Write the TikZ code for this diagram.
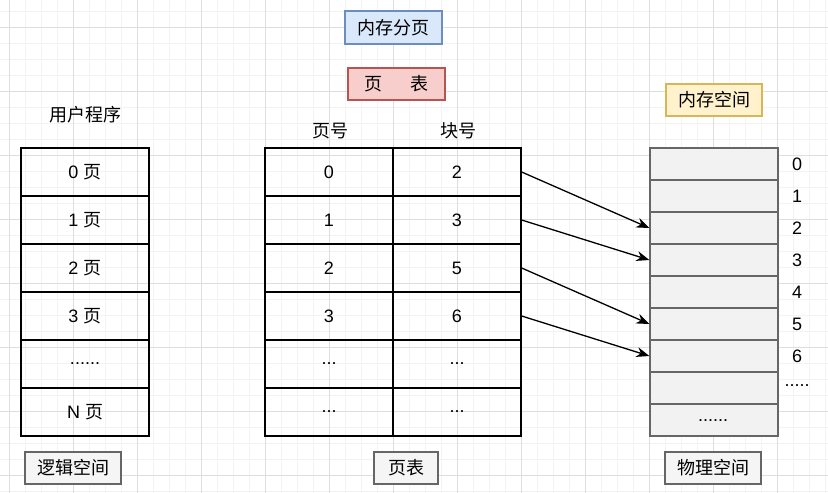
\documentclass[tikz,border=0pt]{standalone}
\usepackage{fontspec}
\setmainfont{Liberation Sans}
\newfontfamily\cjkfont{Noto Sans CJK SC}
\newcommand\zh[1]{{\cjkfont #1}}
\usetikzlibrary{arrows.meta}
\definecolor{gridminor}{HTML}{F3F3F3}
\definecolor{gridmajor}{HTML}{DEDEDE}
\definecolor{bluefill}{HTML}{DAE8FC}
\definecolor{blueline}{HTML}{6C8EBF}
\definecolor{redfill}{HTML}{F8CECC}
\definecolor{redline}{HTML}{B85450}
\definecolor{yelfill}{HTML}{FFF2CC}
\definecolor{yelline}{HTML}{D6B656}
\definecolor{memfill}{HTML}{F2F2F2}
\definecolor{memline}{HTML}{666666}
\definecolor{tagfill}{HTML}{F5F5F5}
\begin{document}
\begin{tikzpicture}[x=1pt,y=-1pt,
  every node/.style={font=\fontsize{18}{22}\selectfont, inner sep=0pt},
  cell/.style={draw=black, line width=1.3pt, minimum width=128pt, minimum height=48pt},
  mem/.style={draw=memline, fill=memfill, line width=1.3pt, minimum width=128pt, minimum height=32pt},
  tagbox/.style={draw=memline, fill=tagfill, line width=1.3pt, minimum height=32pt},
  plain/.style={},
  link/.style={line width=1.3pt, -{Stealth[length=13pt,width=10pt]}}
]
\useasboundingbox (0,0) rectangle (828,493);
% grid
\foreach \x in {-7,9,...,830} \draw[gridminor, line width=1pt] (\x,0) -- (\x,493);
\foreach \y in {11,27,...,495} \draw[gridminor, line width=1pt] (0,\y) -- (828,\y);
\foreach \x in {9,73,...,830} \draw[gridmajor, line width=1pt] (\x,0) -- (\x,493);
\foreach \y in {27,91,...,495} \draw[gridmajor, line width=1pt] (0,\y) -- (828,\y);

% titles
\node[draw=blueline, fill=bluefill, line width=1.3pt, minimum width=97pt, minimum height=33pt] (title) at (393.5,27.5) {\zh{内存分页}};
\node[draw=redline, fill=redfill, line width=1.3pt, minimum width=97pt, minimum height=32pt] (pt) at (396.5,84) {\zh{页\hspace{1.55em}表}};
\node[draw=yelline, fill=yelfill, line width=1.3pt, minimum width=96pt, minimum height=32pt] (ms) at (714,100) {\zh{内存空间}};

\node[plain] (up) at (85,115) {\zh{用户程序}};
\node[plain] (hpage) at (330,131) {\zh{页号}};
\node[plain] (hblock) at (458,131) {\zh{块号}};

% logical pages
\node[cell] (l0) at (85,172) {0 \zh{页}};
\node[cell] (l1) at (85,220) {1 \zh{页}};
\node[cell] (l2) at (85,268) {2 \zh{页}};
\node[cell] (l3) at (85,316) {3 \zh{页}};
\node[cell] (l4) at (85,364) {......};
\node[cell] (l5) at (85,412) {N \zh{页}};

% page table
\node[cell] (p0a) at (329,172) {0};
\node[cell] (p1a) at (329,220) {1};
\node[cell] (p2a) at (329,268) {2};
\node[cell] (p3a) at (329,316) {3};
\node[cell] (p4a) at (329,364) {...};
\node[cell] (p5a) at (329,412) {...};
\node[cell] (p0b) at (457,172) {2};
\node[cell] (p1b) at (457,220) {3};
\node[cell] (p2b) at (457,268) {5};
\node[cell] (p3b) at (457,316) {6};
\node[cell] (p4b) at (457,364) {...};
\node[cell] (p5b) at (457,412) {...};

% physical memory
\node[mem] (m0) at (714,164) {};
\node[mem] (m1) at (714,196) {};
\node[mem] (m2) at (714,228) {};
\node[mem] (m3) at (714,260) {};
\node[mem] (m4) at (714,292) {};
\node[mem] (m5) at (714,324) {};
\node[mem] (m6) at (714,356) {};
\node[mem] (m7) at (714,388) {};
\node[mem] (m8) at (714,420) {};
\node[plain] (m8t) at (713,421) {......};

\node[plain] (n0) at (797,164) {0};
\node[plain] (n1) at (797,196) {1};
\node[plain] (n2) at (797,228) {2};
\node[plain] (n3) at (797,260) {3};
\node[plain] (n4) at (797,292) {4};
\node[plain] (n5) at (797,324) {5};
\node[plain] (n6) at (797,356) {6};
\node[plain] (n7) at (797,386) {.....};

% arrows
\draw[link] (p0b.east) -- (m2.west);
\draw[link] (p1b.east) -- (m3.west);
\draw[link] (p2b.east) -- (m5.west);
\draw[link] (p3b.east) -- (m6.west);

% bottom labels
\node[tagbox, minimum width=96pt] (lsp) at (73,468) {\zh{逻辑空间}};
\node[tagbox, minimum width=64pt] (ptb) at (406,468) {\zh{页表}};
\node[tagbox, minimum width=96pt] (psp) at (713,468) {\zh{物理空间}};
\end{tikzpicture}
\end{document}
